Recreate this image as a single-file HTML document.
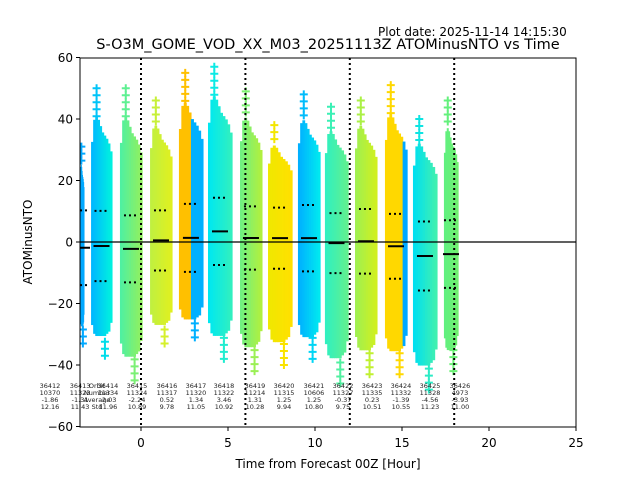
<!DOCTYPE html>
<html><head><meta charset="utf-8"><style>
body{margin:0;background:#fff}
svg{display:block;font-family:"DejaVu Sans","Liberation Sans",sans-serif}
</style></head><body>
<svg id="chart" width="640" height="480" viewBox="0 0 640 480" xmlns="http://www.w3.org/2000/svg">
<defs><clipPath id="clip"><rect x="80" y="58" width="496" height="369"/></clipPath></defs>
<rect width="640" height="480" fill="#fff"/>
<text x="378" y="36" font-size="12">Plot date: 2025-11-14 14:15:30</text>
<text x="328" y="49" font-size="14.5" text-anchor="middle">S-O3M_GOME_VOD_XX_M03_20251113Z ATOMinusNTO vs Time</text>
<g id="plot" clip-path="url(#clip)"></g>
<g id="axes"></g>
<rect x="80" y="58" width="496" height="369" fill="none" stroke="#000" stroke-width="1"/>
<text x="328" y="468" font-size="12" text-anchor="middle">Time from Forecast 00Z [Hour]</text>
<text x="32" y="242" font-size="12" text-anchor="middle" transform="rotate(-90 32 242)">ATOMinusNTO</text>
</svg>
<script>
const NS="http://www.w3.org/2000/svg";
const xTicks=[0,5,10,15,20,25];
const yTicks=[-60,-40,-20,0,20,40,60];
const vLines=[0,6,12,18];
const orbitStart=[-3.5,-2.87,-1.21,0.52,2.18,3.85,5.69,7.3,9.02,10.57,12.3,14.02,15.63,17.41];
const orbitEnd=[-3.28,-1.67,0.06,1.78,3.56,5.23,6.95,8.68,10.29,11.9,13.56,15.29,17.01,18.22];
const orbitMax=[31,50,50,46,55,57,49,38,48,44,46,51,40,46];
const orbitMin=[-33,-37,-45,-33,-31,-38,-42,-40,-38,-46,-43,-43,-48,-42];
const orbitMean=[-1.86,-1.31,-2.24,0.52,1.34,3.46,1.31,1.25,1.25,-0.37,0.23,-1.39,-4.56,-3.93];
const orbitStd=[12.16,11.43,10.89,9.78,11.05,10.92,10.28,9.94,10.8,9.75,10.51,10.55,11.23,11.0];
const orbitColA=["#00a8ff","#00b8ff","#50f0a0","#c0f040","#ffc000","#00e8f0","#70f080","#f0e800","#00b0ff","#30f0c0","#a0f050","#ffd800","#00e0f0","#60f080"];
const orbitColB=["#00a8ff","#00f0e0","#90f060","#e0f020","#00b0ff","#30f0c0","#b0f040","#ffe000","#00e8f0","#60f090","#d0f020","#00a8ff","#40f0b0","#70f070"];
const orbitSplit=[0,0,0,0,0.45,0,0,0,0,0,0,0.72,0,0];
const labelX=[-5.23,-3.5,-1.9,-0.23,1.49,3.16,4.77,6.55,8.22,9.94,11.61,13.28,14.94,16.61,18.33];
const labelOrbit=["36412","36413","36414","36415","36416","36417","36418","36419","36420","36421","36422","36423","36424","36425","36426"];
const labelCount=["10370","11323","11334","11324","11317","11320","11322","11214","11315","10606","11327","11335","11332","11328","4973"];
const labelMean=["-1.86","-1.31","-2.03","-2.24","0.52","1.34","3.46","1.31","1.25","1.25","-0.37","0.23","-1.39","-4.56","-3.93"];
const labelStd=["12.16","11.43","11.96","10.89","9.78","11.05","10.92","10.28","9.94","10.80","9.75","10.51","10.55","11.23","11.00"];
const topProfile=[0.66,0.8,0.82,0.8,0.76,0.72,0.7,0.68,0.65,0.6];
const botProfile=[0.72,0.8,0.82,0.82,0.82,0.82,0.82,0.8,0.78,0.7];
const X=h=>141+(h)*17.4;
const Y=v=>242-v*3.075;
const plot=document.getElementById('plot'),axes=document.getElementById('axes');
function mk(tag,attrs,parent){const e=document.createElementNS(NS,tag);for(const k in attrs)e.setAttribute(k,attrs[k]);parent.appendChild(e);return e;}
function lerpCol(a,b,t){const p=s=>[1,3,5].map(i=>parseInt(s.substr(i,2),16));const A=p(a),B=p(b);return "rgb("+A.map((v,i)=>Math.round(v+(B[i]-v)*t)).join(",")+")";}
function plus(g,px,py,col){
  const p=mk('path',{d:`M${px-4} ${py}H${px+4}M${px} ${py-4}V${py+4}`,stroke:col,'stroke-width':2},g);
  
  
}
orbitStart.forEach((s,i)=>{
  const e=orbitEnd[i],x0=X(s),x1=X(e),w=x1-x0,m=orbitMean[i];
  const g=mk('g',{},plot);
  
  
  const n=topProfile.length;
  for(let k=0;k<n;k++){
    const t=k/(n-1);
    let col;
    if(orbitSplit[i]>0){col=(k/n)<orbitSplit[i]?orbitColA[i]:orbitColB[i];}
    else col=lerpCol(orbitColA[i],orbitColB[i],t);
    const cx=x0+w*k/n,cw=w/n+0.6;
    const top=m+(orbitMax[i]-m)*topProfile[k],bot=m+(orbitMin[i]-m)*botProfile[k];
    const r=mk('rect',{x:cx,y:Y(top),width:cw,height:Y(bot)-Y(top),fill:col},g);
    
    
    if(k===2){
      const yt=Y(top),ym=Y(orbitMax[i]);
      for(let yy=ym;yy<yt;yy+=7)plus(g,cx+cw/2,yy,col);
    }
    if(k===6){
      const yb=Y(bot),ym=Y(orbitMin[i]);
      for(let yy=ym;yy>yb;yy-=7)plus(g,cx+cw/2,yy,col);
    }
  }
});
const z=mk('line',{x1:80,x2:576,y1:Y(0),y2:Y(0),stroke:'#000','stroke-width':1.2},plot);


orbitStart.forEach((s,i)=>{
  const c=(X(s)+X(orbitEnd[i]))/2,m=orbitMean[i],sd=orbitStd[i];
  const l=mk('line',{x1:c-8,x2:c+8,y1:Y(m),y2:Y(m),stroke:'#000','stroke-width':2},plot);
  
  
  [m+sd,m-sd].forEach(v=>{
    const d=mk('line',{x1:c-7,x2:c+7,y1:Y(v),y2:Y(v),stroke:'#000','stroke-width':2,'stroke-dasharray':'2 3'},plot);
    
    
  });
});
vLines.forEach(h=>{
  const l=mk('line',{x1:X(h),x2:X(h),y1:58,y2:427,stroke:'#000','stroke-width':2,'stroke-dasharray':'2 3'},plot);
  
  
});
xTicks.forEach(v=>{
  const x=X(v);
  const t=mk('line',{x1:x,x2:x,y1:427,y2:431,stroke:'#000'},axes);
  
  
  const tx=mk('text',{x:x,y:447,'font-size':12,'text-anchor':'middle'},axes);tx.textContent=String(v);
  
  
});
yTicks.forEach(v=>{
  const y=Y(v);
  const t=mk('line',{x1:76,x2:80,y1:y,y2:y,stroke:'#000'},axes);
  
  
  const tx=mk('text',{x:73,y:y+4.5,'font-size':12,'text-anchor':'end'},axes);tx.textContent=v<0?'\u2212'+(-v):String(v);
  
  
});
const rows=[labelOrbit,labelCount,labelMean,labelStd];
const rowY=[388,395,402,409];
labelX.forEach((h,i)=>{
  rows.forEach((arr,r)=>{
    const t=mk('text',{x:X(h),y:rowY[r],'font-size':6.5,'text-anchor':'middle',fill:'#222'},axes);
    t.textContent=arr[i];
    
    
  });
});
["Orbit","Number","Average","Std"].forEach((s,r)=>{
  const t=mk('text',{x:97,y:rowY[r],'font-size':6.5,'text-anchor':'middle',fill:'#222'},axes);
  t.textContent=s;
  
  
});
</script>
</body></html>
